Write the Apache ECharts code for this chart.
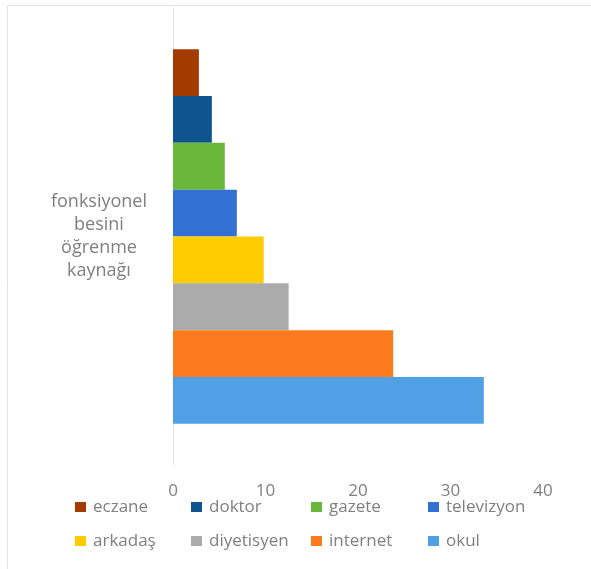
<!DOCTYPE html>
<html>
<head>
<meta charset="utf-8">
<script src="https://cdn.jsdelivr.net/npm/echarts@6/dist/echarts.min.js"></script>
<style>html,body{margin:0;padding:0;background:#fff;}#c{width:591px;height:569px;}</style>
</head>
<body>
<div id="c"></div>
<script>
var categories = ['fonksiyonel\nbesini\nöğrenme\nkaynağı'];
var seriesNames = ['eczane', 'doktor', 'gazete', 'televizyon', 'arkadaş', 'diyetisyen', 'internet', 'okul'];
var seriesValues = [2.8, 4.2, 5.6, 6.9, 9.8, 12.5, 23.8, 33.6];
var seriesColors = ['#A33B00', '#10548F', '#6BB73C', '#3370D4', '#FFCC00', '#ABABAB', '#FD7B1C', '#50A0E6'];
var xTicks = { min: 0, max: 40, interval: 10 };

var chart = echarts.init(document.getElementById('c'), null, { renderer: 'canvas' });

var legendPos = [
  [75, 498], [191, 498], [311, 498], [428, 498],
  [75, 532], [191, 532], [311, 532], [428, 532]
];
var legends = seriesNames.map(function (n, i) {
  return {
    data: [n],
    left: legendPos[i][0],
    top: legendPos[i][1],
    padding: 0,
    icon: 'rect',
    itemWidth: 11,
    itemHeight: 10,
    selectedMode: false,
    textStyle: { color: '#7f7f7f', fontSize: 17, fontFamily: 'Open Sans', lineHeight: 18, padding: [0, 0, 0, 2] }
  };
});

var series = seriesNames.map(function (n, i) {
  return {
    name: n,
    type: 'bar',
    data: [seriesValues[i]],
    barGap: '0%',
    barCategoryGap: '18%',
    itemStyle: { color: seriesColors[i] }
  };
});

chart.setOption({
  animation: false,
  backgroundColor: '#ffffff',
  graphic: [{
    type: 'rect',
    shape: { x: 7.5, y: 5.5, width: 700, height: 700 },
    style: { fill: 'none', stroke: '#e3e3e3', lineWidth: 1 },
    silent: true
  }],
  grid: { left: 173, right: 48, top: 8, bottom: 104, containLabel: false },
  legend: legends,
  xAxis: {
    type: 'value',
    min: xTicks.min,
    max: xTicks.max,
    interval: xTicks.interval,
    axisLine: { show: false },
    axisTick: { show: false },
    splitLine: { show: false },
    axisLabel: { color: '#7f7f7f', fontSize: 17, fontFamily: 'Open Sans', margin: 18 }
  },
  yAxis: {
    type: 'category',
    data: categories,
    inverse: true,
    axisLine: { show: true, lineStyle: { color: '#e6e6e6', width: 1 } },
    axisTick: { show: false },
    axisLabel: {
      color: '#7f7f7f', fontSize: 18, fontFamily: 'Open Sans',
      align: 'center', lineHeight: 23, margin: 74
    }
  },
  series: series
});
</script>
</body>
</html>
